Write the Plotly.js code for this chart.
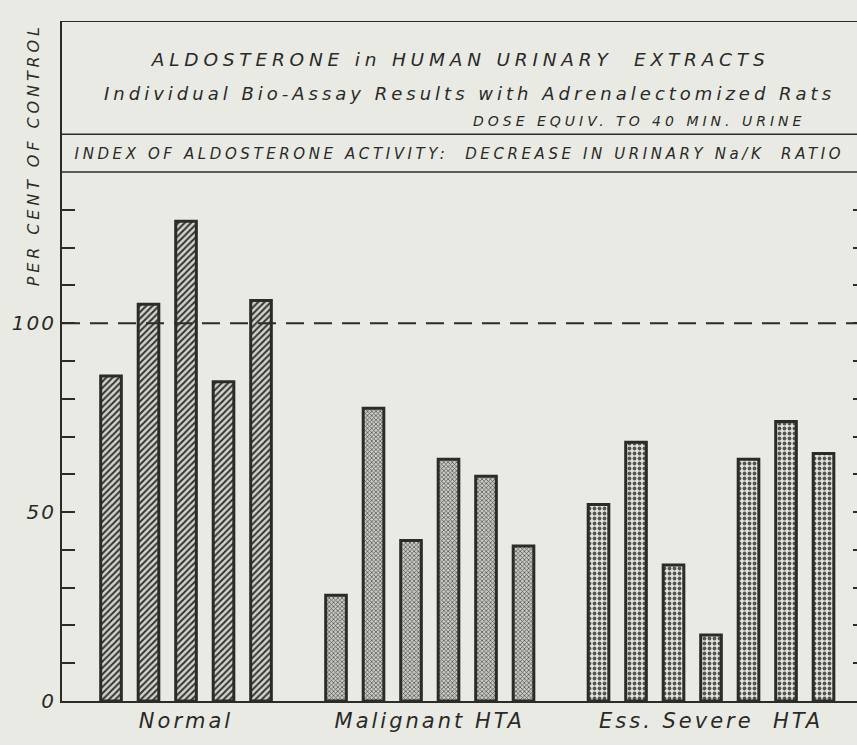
<!DOCTYPE html>
<html>
<head>
<meta charset="utf-8">
<script src="https://cdn.plot.ly/plotly-3.0.1.min.js"></script>
<style>
html,body{margin:0;padding:0;background:#e9eae3;}
#chart{width:857px;height:745px;}
#chart .annotation[data-index="0"] text{letter-spacing:4.8px;}
#chart .annotation[data-index="1"] text{letter-spacing:4px;}
#chart .annotation[data-index="2"] text{letter-spacing:4px;}
#chart .annotation[data-index="3"] text{letter-spacing:3.6px;}
#chart .annotation[data-index="4"] text{letter-spacing:3.9px;}
#chart .xtick text{letter-spacing:3px;}
#chart .ytick text{letter-spacing:2px;}
</style>
</head>
<body>
<div id="chart"></div>
<script>
// ---- data ----
const groups = ["Normal", "Malignant HTA", "Ess. Severe  HTA"];
const normalValues = [86, 105, 127, 84.5, 106];
const malignantValues = [28, 77.5, 42.5, 64, 59.5, 41];
const essSevereValues = [52, 68.5, 36, 17.5, 64, 74, 65.5];
const yTickLabels = {0: "0", 50: "50", 100: "100"};
const controlLevel = 100;

const seriesValues = [normalValues, malignantValues, essSevereValues];
const patterns = [
  {shape: "/", fgcolor: "#34342f", bgcolor: "#d2d3cc", size: 4.5, solidity: 0.45},
  {shape: "x", fgcolor: "#4a4a46", bgcolor: "#c9cac3", size: 3, solidity: 0.4},
  {shape: ".", fgcolor: "#55554f", bgcolor: "#e2e3dc", size: 5, solidity: 0.45}
];

// positions: consecutive slots, one empty slot between groups
const traces = [];
const groupCenters = [];
let slot = 0;
seriesValues.forEach((vals, gi) => {
  const xs = vals.map((_, i) => slot + i);
  groupCenters.push(slot + (vals.length - 1) / 2);
  traces.push({
    type: "bar", x: xs, y: vals, width: 0.55, name: groups[gi],
    marker: {color: patterns[gi].bgcolor, pattern: patterns[gi], line: {color: "#2b2b28", width: 3}},
    showlegend: false, hoverinfo: "skip"
  });
  slot += vals.length + 1;
});
// right-side ticks
traces.push({type: "scatter", x: [0], y: [0], yaxis: "y2", mode: "markers", marker: {opacity: 0}, showlegend: false, hoverinfo: "skip"});

const yTicks = [];
for (let v = 0; v <= 130; v += 10) yTicks.push(v);
const yText = yTicks.map(v => yTickLabels[v] || "");

const fontFam = "'DejaVu Sans', sans-serif";
const txt = "#2a2a28";

const layout = {
  width: 857, height: 745,
  paper_bgcolor: "#e9eae3", plot_bgcolor: "#e9eae3",
  margin: {l: 62, r: 0, t: 21, b: 44},
  bargap: 0,
  font: {family: fontFam, color: txt, style: "italic"},
  xaxis: {
    range: [-1.307, 19.893], showgrid: false, zeroline: false,
    showline: true, linecolor: "#2b2b28", linewidth: 2,
    tickvals: groupCenters, ticktext: groups, ticks: "",
    tickfont: {size: 21, family: fontFam, color: txt, style: "italic"}
  },
  yaxis: {
    range: [0, 180], showgrid: false, zeroline: false,
    showline: true, linecolor: "#2b2b28", linewidth: 2,
    tickvals: yTicks, ticktext: yText, ticks: "inside", ticklen: 13, tickwidth: 2, tickcolor: "#2b2b28",
    tickfont: {size: 20, family: fontFam, color: txt, style: "italic"}
  },
  yaxis2: {
    range: [0, 180], overlaying: "y", side: "right", showgrid: false, zeroline: false,
    tickvals: yTicks, ticktext: yTicks.map(() => ""), ticks: "inside", ticklen: 4, tickwidth: 2, tickcolor: "#2b2b28"
  },
  shapes: [
    {type: "line", xref: "paper", yref: "y", x0: 0, x1: 1, y0: controlLevel, y1: controlLevel, line: {color: "#2b2b28", width: 2, dash: "18px,10px"}},
    {type: "line", xref: "paper", yref: "y", x0: 0, x1: 1, y0: 180, y1: 180, line: {color: "#2b2b28", width: 2}},
    {type: "line", xref: "paper", yref: "y", x0: 0, x1: 1, y0: 150, y1: 150, line: {color: "#2b2b28", width: 1.5}},
    {type: "line", xref: "paper", yref: "y", x0: 0, x1: 1, y0: 140, y1: 140, line: {color: "#2b2b28", width: 1.5}}
  ],
  annotations: [
    {text: "ALDOSTERONE in HUMAN URINARY  EXTRACTS", xref: "paper", yref: "y", x: 0.501, y: 169.7, showarrow: false, xanchor: "center", yanchor: "middle", font: {size: 18.5, style: "italic"}},
    {text: "Individual Bio-Assay Results with Adrenalectomized Rats", xref: "paper", yref: "y", x: 0.512, y: 160.9, showarrow: false, xanchor: "center", yanchor: "middle", font: {size: 18, style: "italic"}},
    {text: "DOSE EQUIV. TO 40 MIN. URINE", xref: "paper", yref: "y", x: 0.727, y: 153.5, showarrow: false, xanchor: "center", yanchor: "middle", font: {size: 14, style: "italic"}},
    {text: "INDEX OF ALDOSTERONE ACTIVITY:  DECREASE IN URINARY Na/K  RATIO", xref: "paper", yref: "y", x: 0.4995, y: 144.8, showarrow: false, xanchor: "center", yanchor: "middle", font: {size: 15, style: "italic"}},
    {text: "PER CENT OF CONTROL", xref: "paper", yref: "paper", x: -0.0365, y: 0.804, textangle: -90, showarrow: false, xanchor: "center", yanchor: "middle", font: {size: 16, style: "italic"}}
  ]
};

Plotly.newPlot("chart", traces, layout, {displayModeBar: false, staticPlot: true});
</script>
</body>
</html>
